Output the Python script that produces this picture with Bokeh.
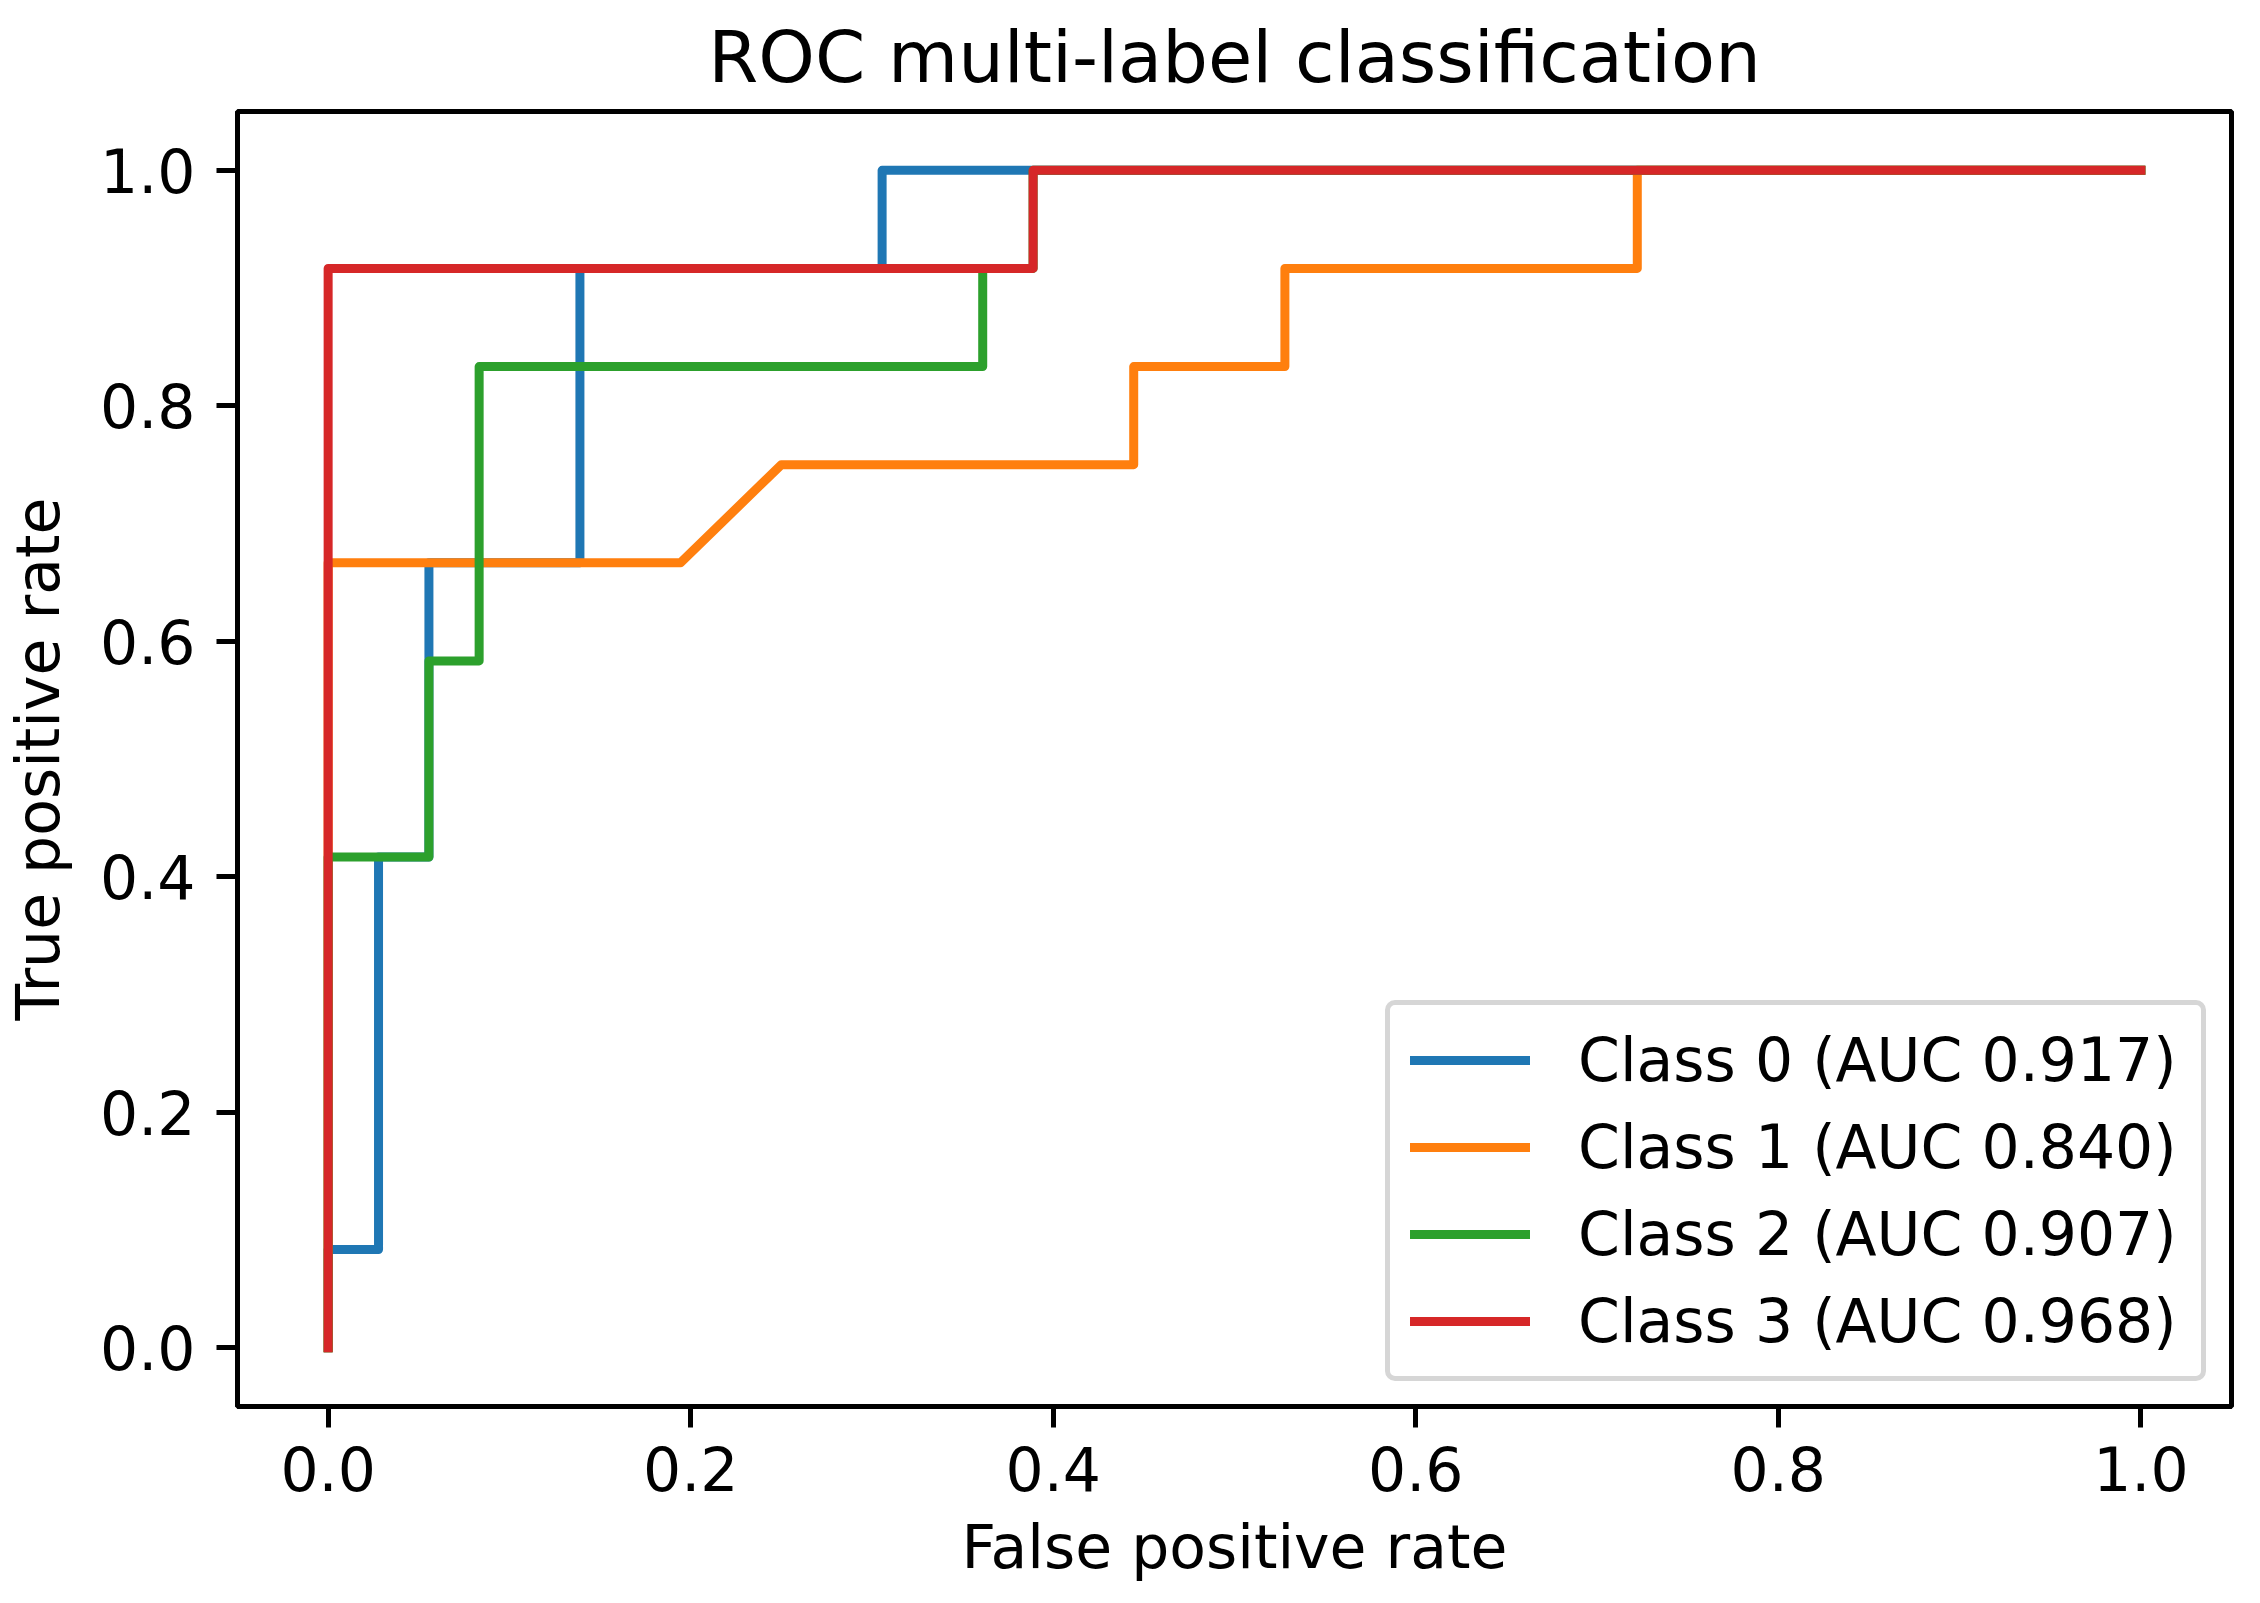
from bokeh.plotting import figure
from bokeh.models import Range1d, FixedTicker, Legend, LegendItem
from bokeh.embed import file_html
from bokeh.resources import INLINE

# ---- data ----
class0_fpr = [0.0, 0.0, 0.0278, 0.0278, 0.0556, 0.0556, 0.1389, 0.1389, 0.3056, 0.3056, 1.0]
class0_tpr = [0.0, 0.0833, 0.0833, 0.4167, 0.4167, 0.6667, 0.6667, 0.9167, 0.9167, 1.0, 1.0]

class1_fpr = [0.0, 0.0, 0.1944, 0.25, 0.4444, 0.4444, 0.5278, 0.5278, 0.7222, 0.7222, 1.0]
class1_tpr = [0.0, 0.6667, 0.6667, 0.75, 0.75, 0.8333, 0.8333, 0.9167, 0.9167, 1.0, 1.0]

class2_fpr = [0.0, 0.0, 0.0556, 0.0556, 0.0833, 0.0833, 0.3611, 0.3611, 0.3889, 0.3889, 1.0]
class2_tpr = [0.0, 0.4167, 0.4167, 0.5833, 0.5833, 0.8333, 0.8333, 0.9167, 0.9167, 1.0, 1.0]

class3_fpr = [0.0, 0.0, 0.3889, 0.3889, 1.0]
class3_tpr = [0.0, 0.9167, 0.9167, 1.0, 1.0]

labels = ["Class 0 (AUC 0.917)", "Class 1 (AUC 0.840)",
          "Class 2 (AUC 0.907)", "Class 3 (AUC 0.968)"]
colors = ["#1f77b4", "#ff7f0e", "#2ca02c", "#d62728"]

x_ticks = [0.0, 0.2, 0.4, 0.6, 0.8, 1.0]
y_ticks = [0.0, 0.2, 0.4, 0.6, 0.8, 1.0]
tick_labels = ["0.0", "0.2", "0.4", "0.6", "0.8", "1.0"]

title_text = "ROC multi-label classification"
x_label = "False positive rate"
y_label = "True positive rate"

FONT = "DejaVu Sans"

p = figure(width=2244, height=1587,
           x_range=Range1d(-0.05, 1.05), y_range=Range1d(-0.05, 1.05),
           output_backend="svg", toolbar_location=None,
           min_border_left=229, min_border_right=13,
           min_border_top=109, min_border_bottom=181,
           title=title_text)

p.background_fill_color = "white"
p.border_fill_color = "white"
p.outline_line_color = "black"
p.outline_line_width = 5
p.outline_line_alpha = 1.0
p.grid.visible = False

p.title.text_font = FONT
p.title.text_font_size = "72px"
p.title.text_font_style = "normal"
p.title.text_color = "black"
p.title.align = "center"
p.title.standoff = 25

for ax, ticks in ((p.xaxis[0], x_ticks), (p.yaxis[0], y_ticks)):
    ax.ticker = FixedTicker(ticks=ticks)
    ax.major_label_overrides = {t: s for t, s in zip(ticks, tick_labels)}
    ax.major_tick_in = 0
    ax.major_tick_out = 21
    ax.major_tick_line_width = 5
    ax.major_tick_line_color = "black"
    ax.minor_tick_line_color = None
    ax.axis_line_width = 5
    ax.axis_line_color = "black"
    ax.major_label_text_font = FONT
    ax.major_label_text_font_size = "60px"
    ax.major_label_text_color = "black"
    ax.major_label_standoff = 21
    ax.axis_label_text_font = FONT
    ax.axis_label_text_font_size = "60px"
    ax.axis_label_text_font_style = "normal"
    ax.axis_label_text_color = "black"
    ax.axis_label_standoff = 24

# x axis: slightly tighter so the frame bottom sits where the reference has it
p.xaxis.major_label_standoff = 18
p.xaxis.axis_label_standoff = 18

p.xaxis.axis_label = x_label
p.yaxis.axis_label = y_label

series = [(class0_fpr, class0_tpr), (class1_fpr, class1_tpr),
          (class2_fpr, class2_tpr), (class3_fpr, class3_tpr)]
items = []
for (xs, ys), lab, col in zip(series, labels, colors):
    r = p.line(xs, ys, line_color=col, line_width=9,
               line_join="round", line_cap="square")
    items.append(LegendItem(label=lab, renderers=[r]))

legend = Legend(items=items, location="bottom_right")
legend.margin = 25
legend.padding = 20
legend.spacing = 17
legend.glyph_width = 120
legend.glyph_height = 58
legend.label_height = 58
legend.label_width = 603
legend.label_standoff = 48
legend.label_text_font = FONT
legend.label_text_font_size = "60px"
legend.label_text_color = "black"
legend.border_line_color = "#d6d6d6"
legend.border_line_width = 5
legend.border_line_alpha = 1.0
legend.background_fill_color = "white"
legend.background_fill_alpha = 0.8
if "border_radius" in legend.properties():
    legend.border_radius = 10
p.add_layout(legend)

open("out.html", "w").write(file_html(p, INLINE))
